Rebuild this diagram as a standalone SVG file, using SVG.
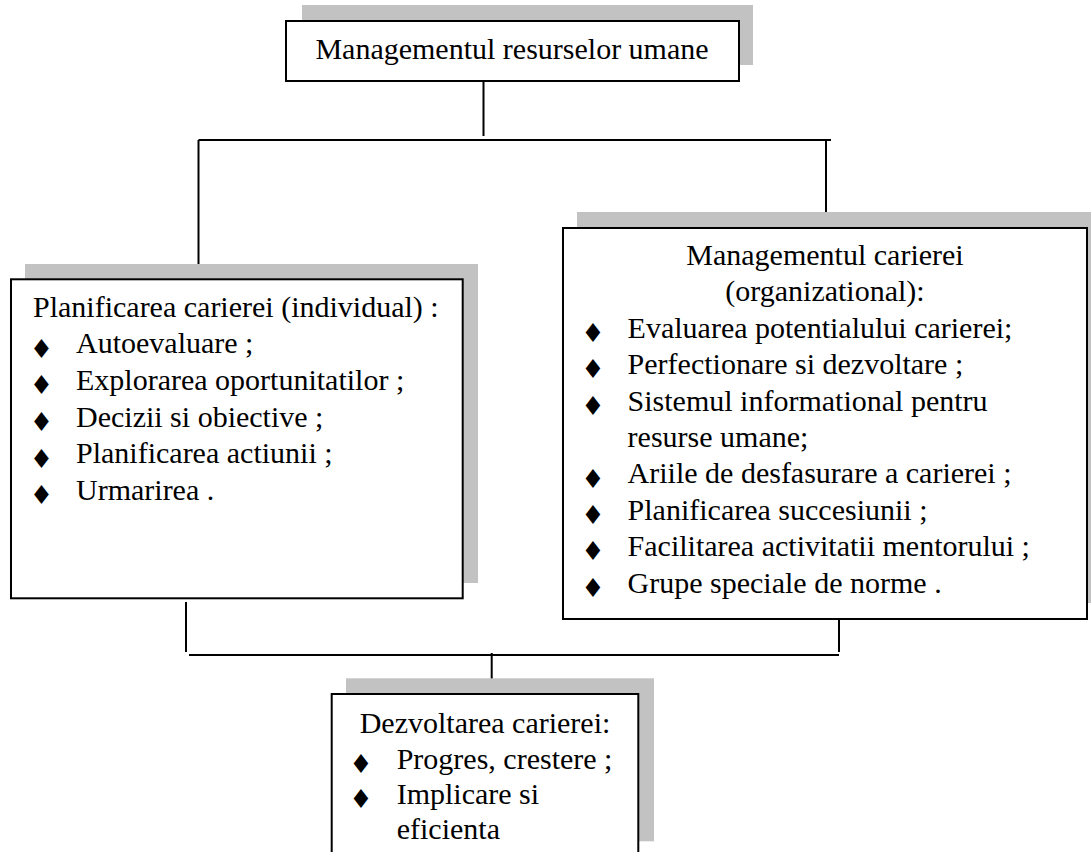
<svg xmlns="http://www.w3.org/2000/svg" width="1091" height="852" viewBox="0 0 1091 852">
  <style>
    .shadow { fill: #c2c2c2; }
    .box { fill: #ffffff; stroke: #000000; stroke-width: 2; }
    .txt { font-family: "Liberation Serif", "Times New Roman", serif; font-size: 30px; fill: #000000; }
    .mid { text-anchor: middle; }
    .bul { font-family: "DejaVu Sans", sans-serif; font-size: 26px; fill: #000000; text-anchor: middle; }
    .wire { fill: none; stroke: #000000; stroke-width: 2; }
  </style>

  <!-- connectors -->
  <g id="connectors">
    <path class="wire" d="M483.5 81 V136"/>
    <path class="wire" d="M198.5 140 H831"/>
    <path class="wire" d="M198.5 140 V279"/>
    <path class="wire" d="M826 140 V228"/>
    <path class="wire" d="M186 602 V652"/>
    <path class="wire" d="M189 655 H839"/>
    <path class="wire" d="M839 620 V652"/>
    <path class="wire" d="M491.7 653 V694"/>
  </g>

  <!-- top node -->
  <g id="node-mru">
    <rect class="shadow" x="302" y="5" width="451" height="60"/>
    <rect class="box" x="286" y="21" width="453" height="60"/>
    <text class="txt mid" x="512" y="59">Managementul resurselor umane</text>
  </g>

  <!-- left node -->
  <g id="node-planificare">
    <rect class="shadow" x="25" y="264" width="453" height="319"/>
    <rect class="box" x="11" y="279.3" width="451.7" height="319"/>
    <text class="txt" x="33" y="316.7">Planificarea carierei (individual) :</text>
    <text class="bul" x="41.5" y="357.5">♦</text>
    <text class="txt" x="76" y="353.3">Autoevaluare ;</text>
    <text class="bul" x="41.5" y="394.2">♦</text>
    <text class="txt" x="76" y="390">Explorarea oportunitatilor ;</text>
    <text class="bul" x="41.5" y="430.9">♦</text>
    <text class="txt" x="76" y="426.7">Decizii si obiective ;</text>
    <text class="bul" x="41.5" y="467.5">♦</text>
    <text class="txt" x="76" y="463.3">Planificarea actiunii ;</text>
    <text class="bul" x="41.5" y="504.2">♦</text>
    <text class="txt" x="76" y="500">Urmarirea .</text>
  </g>

  <!-- right node -->
  <g id="node-management-cariera">
    <rect class="shadow" x="577" y="212" width="520" height="391"/>
    <rect class="box" x="563" y="228" width="524" height="391"/>
    <text class="txt mid" x="825" y="265">Managementul carierei</text>
    <text class="txt mid" x="825" y="301.4">(organizational):</text>
    <text class="bul" x="593" y="342">♦</text>
    <text class="txt" x="627.6" y="337.8">Evaluarea potentialului carierei;</text>
    <text class="bul" x="593" y="378.4">♦</text>
    <text class="txt" x="627.6" y="374.2">Perfectionare si dezvoltare ;</text>
    <text class="bul" x="593" y="414.8">♦</text>
    <text class="txt" x="627.6" y="410.6">Sistemul informational pentru</text>
    <text class="txt" x="627.6" y="447">resurse umane;</text>
    <text class="bul" x="593" y="487.6">♦</text>
    <text class="txt" x="627.6" y="483.4">Ariile de desfasurare a carierei ;</text>
    <text class="bul" x="593" y="524">♦</text>
    <text class="txt" x="627.6" y="519.8">Planificarea succesiunii ;</text>
    <text class="bul" x="593" y="560.4">♦</text>
    <text class="txt" x="627.6" y="556.2">Facilitarea activitatii mentorului ;</text>
    <text class="bul" x="593" y="596.8">♦</text>
    <text class="txt" x="627.6" y="592.6">Grupe speciale de norme .</text>
  </g>

  <!-- bottom node -->
  <g id="node-dezvoltare">
    <rect class="shadow" x="346" y="678.3" width="308" height="163"/>
    <rect class="box" x="331.7" y="694" width="306.6" height="170"/>
    <text class="txt mid" x="485" y="733">Dezvoltarea carierei:</text>
    <text class="bul" x="361" y="772.7">♦</text>
    <text class="txt" x="396.7" y="768.5">Progres, crestere ;</text>
    <text class="bul" x="361" y="807.7">♦</text>
    <text class="txt" x="396.7" y="803.5">Implicare si</text>
    <text class="txt" x="396.7" y="838.5">eficienta</text>
  </g>
</svg>
